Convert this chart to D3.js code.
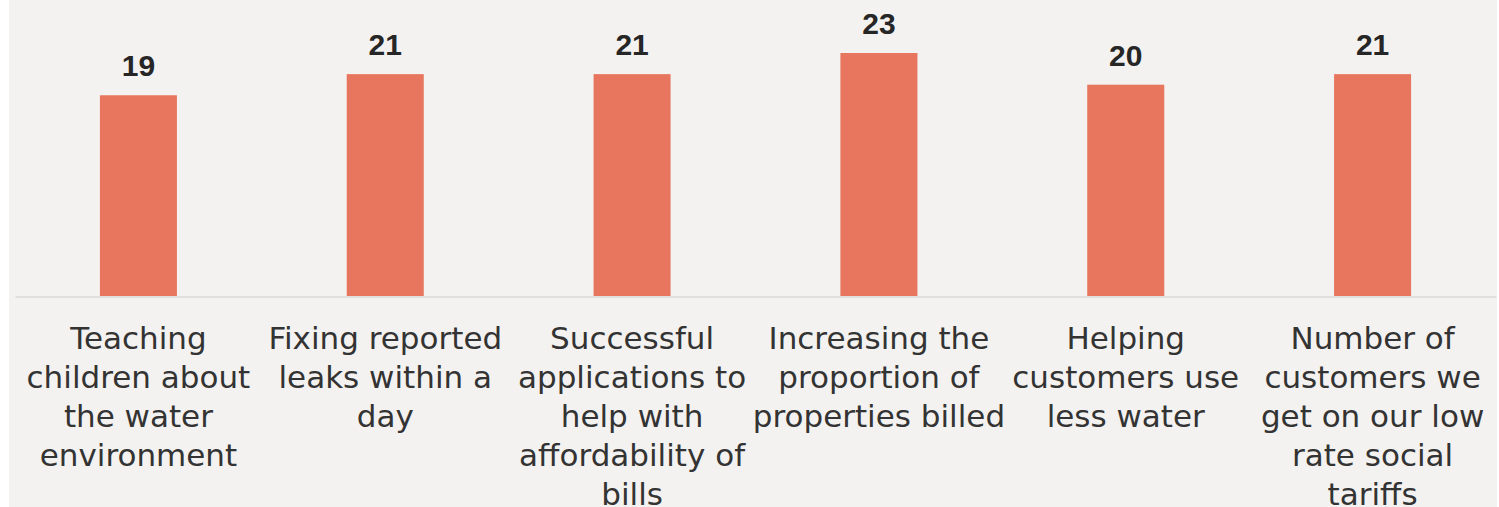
<!DOCTYPE html>
<html>
<head>
<meta charset="utf-8">
<script src="https://cdn.jsdelivr.net/npm/d3@7"></script>
<style>
  html, body { margin: 0; padding: 0; background: #ffffff; }
  svg { display: block; }
</style>
</head>
<body>
<svg id="chart" width="1499" height="507"></svg>
<script>
// Category labels, one entry per line of the wrapped label
const categories = [
  ["Teaching", "children about", "the water", "environment"],
  ["Fixing reported", "leaks within a", "day"],
  ["Successful", "applications to", "help with", "affordability of", "bills"],
  ["Increasing the", "proportion of", "properties billed"],
  ["Helping", "customers use", "less water"],
  ["Number of", "customers we", "get on our low", "rate social", "tariffs"]
];
const values = [19, 21, 21, 23, 20, 21];

const W = 1499, H = 507;
const svg = d3.select("#chart");

// panel background
svg.append("rect")
  .attr("x", 9).attr("y", 0)
  .attr("width", 1488).attr("height", 507)
  .attr("fill", "#f3f2f0");

const baseY = 296;
const x = d3.scaleBand()
  .domain(d3.range(values.length))
  .range([15, 1496])
  .paddingInner(0.688)
  .paddingOuter(0.344);

const y = d3.scaleLinear()
  .domain([0, 23])
  .range([baseY, baseY - 243]);

// bars
svg.append("g").selectAll("rect")
  .data(values)
  .join("rect")
  .attr("x", (d, i) => x(i))
  .attr("y", d => y(d))
  .attr("width", x.bandwidth())
  .attr("height", d => y(0) - y(d))
  .attr("fill", "#e8765e");

// baseline axis
const axis = d3.axisBottom(x).tickSize(0).tickFormat("");
const axisG = svg.append("g")
  .attr("transform", `translate(0,${baseY + 0.5})`)
  .call(axis);
axisG.select(".domain")
  .attr("stroke", "#d9d9d9")
  .attr("stroke-width", 1.5);

// value labels
svg.append("g").selectAll("text")
  .data(values)
  .join("text")
  .attr("x", (d, i) => x(i) + x.bandwidth() / 2)
  .attr("y", d => y(d) - 19)
  .attr("text-anchor", "middle")
  .attr("font-family", "'Liberation Sans', Arial, sans-serif")
  .attr("font-weight", "bold")
  .attr("font-size", 30)
  .attr("fill", "#262626")
  .text(d => d);

// category labels
const lab = svg.append("g").selectAll("text")
  .data(categories)
  .join("text")
  .attr("text-anchor", "middle")
  .attr("font-family", "'DejaVu Sans', sans-serif")
  .attr("font-size", 31)
  .attr("fill", "#333333")
  .attr("transform", (d, i) => `translate(${x(i) + x.bandwidth() / 2},349)`);

lab.selectAll("tspan")
  .data(d => d)
  .join("tspan")
  .attr("x", 0)
  .attr("y", (d, j) => j * 39)
  .text(d => d);
</script>
</body>
</html>
